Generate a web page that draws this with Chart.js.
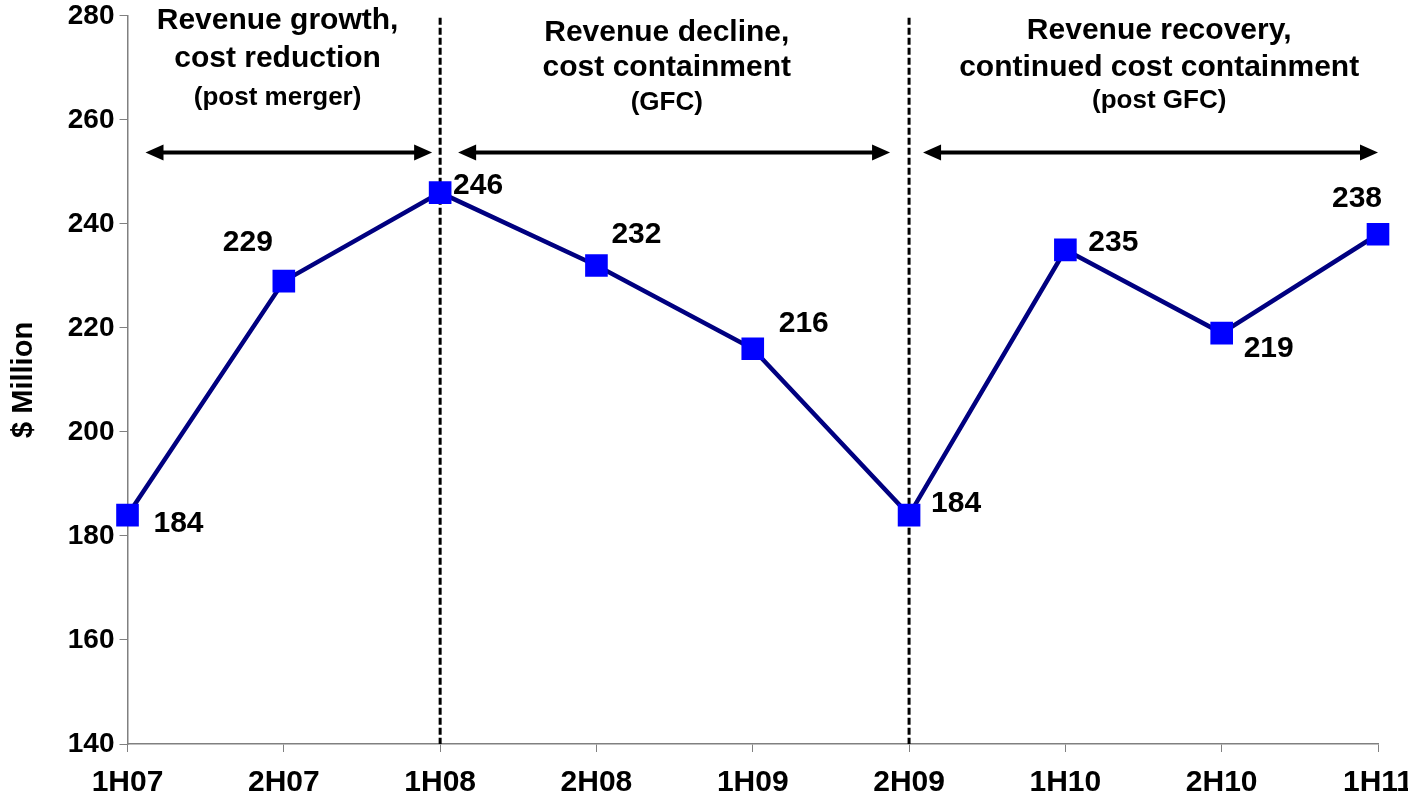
<!DOCTYPE html>
<html>
<head>
<meta charset="utf-8">
<script src="https://cdn.jsdelivr.net/npm/chart.js@4/dist/chart.umd.min.js"></script>
<style>
  html, body { margin: 0; padding: 0; background: #fff; overflow: hidden; }
  #wrap { width: 1430px; height: 820px; margin-top: -6px; }
</style>
</head>
<body>
<div id="wrap"><canvas id="chart"></canvas></div>
<script>
// Data
const periods = ['1H07', '2H07', '1H08', '2H08', '1H09', '2H09', '1H10', '2H10', '1H11'];
const revenue = [184, 229, 246, 232, 216, 184, 235, 219, 238];
const yTicks = [140, 160, 180, 200, 220, 240, 260, 280];

// Phase annotations
const phaseDividers = ['1H08', '2H09'];
const phaseTitles = [
    ['Revenue growth,', 'cost reduction', '(post merger)'],
    ['Revenue decline,', 'cost containment', '(GFC)'],
    ['Revenue recovery,', 'continued cost containment', '(post GFC)']
];

// label placement, pixel offsets from each marker
const labelOffsets = [[51, 9], [-36, -38], [38, -7], [40, -31], [51, -25], [47, -11], [48, -7], [47, 16], [-21, -36]];
// text block centres (category index) and line offsets from top of plot
const phaseCentres = [0.96, 3.45, 6.6];
const phaseLineY = [[5, 43, 82], [17, 52, 87], [15, 52, 85]];
// arrows: [fromIndex, pxInset, toIndex, pxInset]
const phaseArrows = [[0, 18, 2, -8], [2, 18, 5, -19], [5, 14, 8, 0]];
const arrowValue = 253.7;

const FONT = '"Liberation Sans", Arial, sans-serif';

const annotations = {
    id: 'annotations',
    beforeDatasetsDraw(chart) {
        const { ctx, chartArea, scales: { x, y } } = chart;
        ctx.save();
        // dashed dividers
        ctx.strokeStyle = '#000';
        ctx.lineWidth = 3;
        ctx.setLineDash([7, 3]);
        phaseDividers.forEach(p => {
            const px = x.getPixelForValue(periods.indexOf(p));
            ctx.beginPath();
            ctx.moveTo(px, chartArea.top + 2);
            ctx.lineTo(px, chartArea.bottom);
            ctx.stroke();
        });
        ctx.setLineDash([]);

        // arrows
        const ay = y.getPixelForValue(arrowValue);
        ctx.lineWidth = 4;
        ctx.fillStyle = '#000';
        phaseArrows.forEach(([i1, d1, i2, d2]) => {
            const x1 = x.getPixelForValue(i1) + d1;
            const x2 = x.getPixelForValue(i2) + d2;
            ctx.beginPath();
            ctx.moveTo(x1 + 10, ay);
            ctx.lineTo(x2 - 10, ay);
            ctx.stroke();
            [[x1, 1], [x2, -1]].forEach(([tip, dir]) => {
                ctx.beginPath();
                ctx.moveTo(tip, ay);
                ctx.lineTo(tip + dir * 18, ay - 8);
                ctx.lineTo(tip + dir * 18, ay + 8);
                ctx.closePath();
                ctx.fill();
            });
        });

        // phase titles
        ctx.textAlign = 'center';
        ctx.textBaseline = 'middle';
        phaseTitles.forEach((lines, b) => {
            const cx = x.getPixelForValue(phaseCentres[b]);
            lines.forEach((t, k) => {
                ctx.font = (k === 2 ? 'bold 26px ' : 'bold 30px ') + FONT;
                ctx.fillText(t, cx, chartArea.top + phaseLineY[b][k]);
            });
        });
        ctx.restore();
    },
    afterDatasetsDraw(chart) {
        const { ctx } = chart;
        const meta = chart.getDatasetMeta(0);
        ctx.save();
        ctx.font = 'bold 30px ' + FONT;
        ctx.fillStyle = '#000';
        ctx.textAlign = 'center';
        ctx.textBaseline = 'middle';
        meta.data.forEach((pt, i) => {
            const [dx, dy] = labelOffsets[i];
            ctx.fillText(String(revenue[i]), pt.x + dx, pt.y + dy);
        });
        ctx.restore();
    }
};

new Chart(document.getElementById('chart'), {
    type: 'line',
    data: {
        labels: periods,
        datasets: [{
            data: revenue,
            borderColor: '#000080',
            borderWidth: 4.5,
            pointStyle: 'rect',
            pointRadius: 16,
            pointHoverRadius: 16,
            pointBorderWidth: 0,
            pointBackgroundColor: '#0000FF',
            tension: 0
        }]
    },
    options: {
        responsive: true,
        maintainAspectRatio: false,
        animation: false,
        layout: { padding: { top: 0, right: 52, left: 7, bottom: 0 } },
        plugins: {
            legend: { display: false },
            tooltip: { enabled: false }
        },
        scales: {
            x: {
                offset: false,
                grid: { drawOnChartArea: false, drawTicks: true, tickLength: 8, color: '#808080' },
                border: { color: '#808080', width: 1.5 },
                ticks: {
                    color: '#000',
                    font: { family: FONT, size: 30, weight: 'bold' },
                    maxRotation: 0,
                    autoSkip: false,
                    padding: 13
                }
            },
            y: {
                min: yTicks[0],
                max: yTicks[yTicks.length - 1],
                afterBuildTicks: scale => { scale.ticks = yTicks.map(v => ({ value: v })); },
                grid: { drawOnChartArea: false, drawTicks: true, tickLength: 8, color: '#808080' },
                border: { color: '#808080', width: 1.5 },
                ticks: {
                    color: '#000',
                    font: { family: FONT, size: 28, weight: 'bold' },
                    padding: 5
                },
                title: {
                    display: true,
                    text: '$ Million',
                    color: '#000',
                    font: { family: FONT, size: 29, weight: 'bold' },
                    padding: { top: 0, bottom: 21 }
                }
            }
        }
    },
    plugins: [annotations]
});
</script>
</body>
</html>
